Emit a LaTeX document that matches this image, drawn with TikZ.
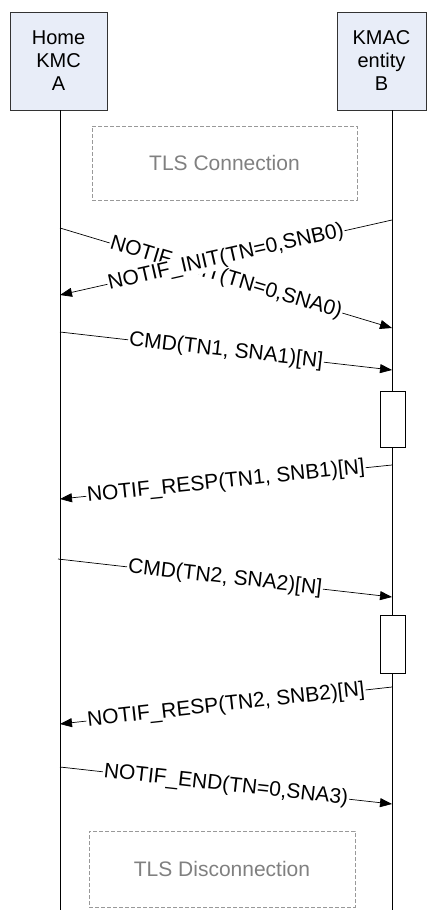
\documentclass[tikz,border=0pt]{standalone}
\usepackage{fontspec}
\setmainfont{Liberation Sans}
\usetikzlibrary{arrows.meta,positioning}
\definecolor{boxfill}{HTML}{E8EDF8}
\tikzset{
  entity/.style = {draw=black!80, fill=boxfill, align=center, inner sep=0pt,
                   font=\fontsize{20}{23}\selectfont},
  tlsbox/.style = {draw=black!40, dash pattern=on 4pt off 2pt, text=black!50,
                   font=\fontsize{21}{25}\selectfont},
  busy/.style   = {draw, fill=white, minimum width=25pt, minimum height=56pt,
                   inner sep=0pt},
  msg/.style    = {line width=0.7pt, -{Triangle[length=12pt,width=9pt]}},
  lbl/.style    = {midway, sloped, fill=white, inner sep=1pt,
                   font=\fontsize{21}{25}\selectfont}
}

\begin{document}
\begin{tikzpicture}[x=1pt, y=-1pt]
  \useasboundingbox (0,0) rectangle (427,910);

  % the two entities and their lifelines
  \node[entity, minimum width=97pt, minimum height=98pt] (A) at (58.5,61) {Home\\KMC\\A};
  \node[entity, minimum width=89pt, minimum height=98pt] (B) at (381.5,61) {KMAC\\entity\\B};
  \coordinate (la) at (60,910);
  \coordinate (lb) at (392,910);
  \draw[line width=0.7pt] (A.south -| la) -- (la);
  \draw[line width=0.7pt] (B.south -| lb) -- (lb);

  % TLS phases
  \node[tlsbox, minimum width=265pt, minimum height=74pt] (conn) at (224.5,163) {TLS Connection};
  \node[tlsbox, minimum width=266pt, minimum height=76pt] (disc) at (222,869) {TLS Disconnection};

  % processing on B
  \node[busy] (act1) at (392.5,419) {};
  \node[busy, minimum height=58pt] (act2) at (392.5,644) {};

  % messages between the lifelines
  \foreach \i/\xs/\ys/\xt/\yt/\txt in {
      1/60/228/392/328/{NOTIF\_INIT(TN=0,SNA0)},
      2/392/220/60/295/{NOTIF\_INIT(TN=0,SNB0)},
      3/60/332/392/370/{CMD(TN1, SNA1)[N]},
      4/392/465/60/499/{NOTIF\_RESP(TN1, SNB1)[N]},
      5/58/559/392/597/{CMD(TN2, SNA2)[N]},
      6/392/687/60/724/{NOTIF\_RESP(TN2, SNB2)[N]},
      7/60/767/392/804/{NOTIF\_END(TN=0,SNA3)}} {
    \coordinate (s\i) at (\xs,\ys);
    \coordinate (t\i) at (\xt,\yt);
    \draw[msg] (s\i) -- (t\i) node[lbl] {\txt};
  }
\end{tikzpicture}
\end{document}
